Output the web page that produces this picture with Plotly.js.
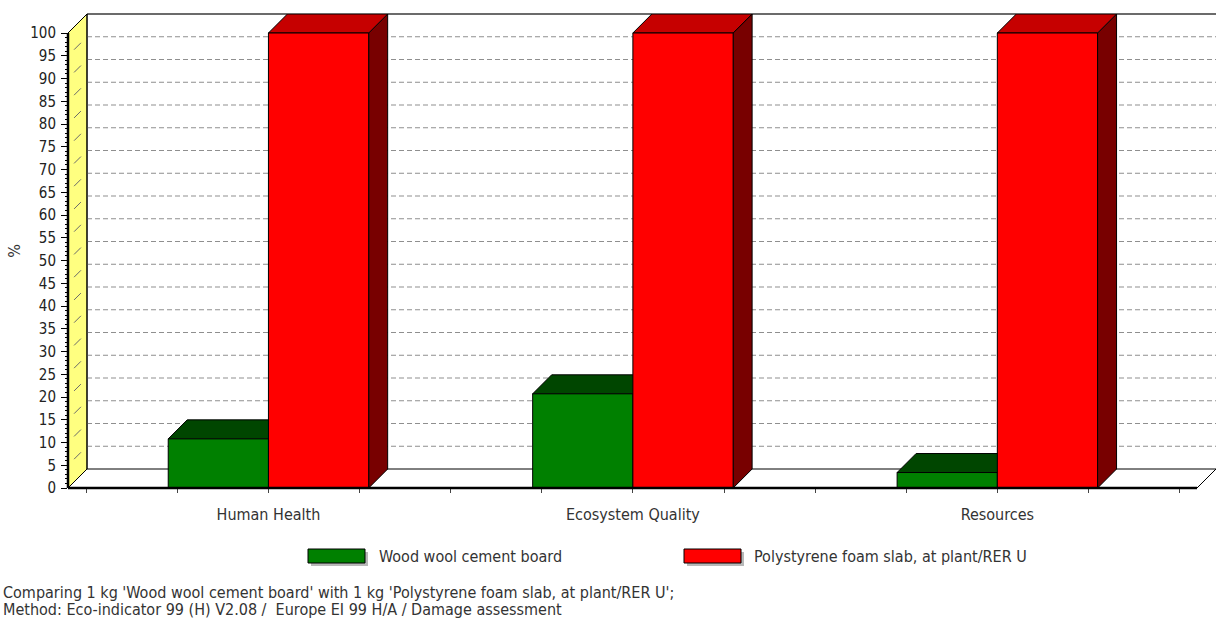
<!DOCTYPE html>
<html>
<head>
<meta charset="utf-8">
<script src="https://cdn.plot.ly/plotly-3.0.1.min.js"></script>
<style>
  html, body { margin: 0; padding: 0; background: #ffffff; }
  #chart { width: 1216px; height: 621px; }
</style>
</head>
<body>
<div id="chart"></div>
<script>
// Damage categories and the two compared products (percent of the larger one)
const categories = ['Human Health', 'Ecosystem Quality', 'Resources'];
const woodWool = [10.8, 20.7, 3.4];
const polystyrene = [100, 100, 100];
const seriesNames = ['Wood wool cement board', 'Polystyrene foam slab, at plant/RER U'];

const yTickValues = [0, 5, 10, 15, 20, 25, 30, 35, 40, 45, 50, 55, 60, 65, 70, 75, 80, 85, 90, 95, 100];
const yTickLabels = ['0', '5', '10', '15', '20', '25', '30', '35', '40', '45', '50', '55', '60', '65', '70', '75', '80', '85', '90', '95', '100'];

const noteLines = [
  "Comparing 1 kg 'Wood wool cement board' with 1 kg 'Polystyrene foam slab, at plant/RER U';",
  "Method: Eco-indicator 99 (H) V2.08 /\u00a0 Europe EI 99 H/A / Damage assessment"
];

// ---- styling ----
const FONT = '"DejaVu Sans Condensed", "DejaVu Sans", sans-serif';
const TEXT = '#333333';
const palette = [
  { front: '#008000', top: '#004600', side: '#003300' },
  { front: '#ff0000', top: '#c60000', side: '#780000' }
];

// ---- geometry of the pseudo-3D box ----
const W = 1216, H = 621;
const M = { l: 68, r: 0, t: 14, b: 133 };
const plotW = W - M.l - M.r, plotH = H - M.t - M.b;
const DEPTH = 19;                         // receding depth in pixels
const yMax = 100 * plotH / (plotH - DEPTH);
const dy = yMax - 100;                    // depth in axis units (vertical)
const xMin = -0.55, xMax = 2.6;
const dx = DEPTH * (xMax - xMin) / plotW; // depth in axis units (horizontal)
const BAR_W = 0.275;

const px2paperX = p => (p - M.l) / plotW;
const px2paperY = p => (M.t + plotH - p) / plotH;
const x2paper = x => (x - xMin) / (xMax - xMin);

const idx = categories.map((_, i) => i);
const series = [woodWool, polystyrene];
const offsets = [-BAR_W, 0];

// ---- traces: the front faces of the bars ----
const traces = series.map((vals, s) => ({
  type: 'bar',
  name: seriesNames[s],
  x: idx,
  y: vals,
  width: BAR_W,
  offset: offsets[s],
  marker: { color: palette[s].front, line: { color: '#000000', width: 1 } },
  customdata: categories,
  hovertemplate: '%{customdata}<br>' + seriesNames[s] + ': %{y:.1f} %<extra></extra>',
  showlegend: false
}));

// ---- shapes: walls, floor, grid and the depth faces ----
const shapes = [];
const line = (x0, y0, x1, y1, color, width, dash, extra) =>
  Object.assign({ type: 'line', xref: 'x', yref: 'y', x0, y0, x1, y1,
    line: { color, width, dash: dash || 'solid' }, layer: 'below' }, extra || {});

// left wall
shapes.push({
  type: 'path', xref: 'x', yref: 'y', layer: 'below',
  path: `M ${xMin},0 L ${xMin},100 L ${xMin + dx},${yMax} L ${xMin + dx},${dy} Z`,
  fillcolor: '#ffff80', line: { color: '#000000', width: 1 }
});
// grid on the back plane, and its short continuation across the wall
yTickValues.filter(v => v > 0 && v < 100).forEach(v => {
  shapes.push(line(xMin + dx * 0.32, v + dy * 0.32, xMin + dx * 0.68, v + dy * 0.68, '#6a6a6a', 1));
  shapes.push(line(xMin + dx, v + dy, xMax, v + dy, '#8f8f8f', 1, '5px,3px'));
});
// back wall edges
shapes.push(line(xMin + dx, dy, xMin + dx, yMax, '#000000', 1));
shapes.push({ type: 'line', xref: 'paper', yref: 'paper',
  x0: x2paper(xMin + dx), x1: 1, y0: 1, y1: 1, line: { color: '#3a3a3a', width: 1.5 }, layer: 'below' });
// floor
shapes.push(line(xMin + dx, dy, xMax, dy, '#000000', 1));
shapes.push(line(xMax - dx, 0, xMax, dy, '#000000', 1));

// top and side faces of each bar
series.forEach((vals, s) => {
  vals.forEach((v, i) => {
    const x0 = i + offsets[s], x1 = x0 + BAR_W;
    shapes.push({
      type: 'path', xref: 'x', yref: 'y', layer: 'below',
      path: `M ${x1},0 L ${x1},${v} L ${x1 + dx},${v + dy} L ${x1 + dx},${dy} Z`,
      fillcolor: palette[s].side, line: { color: '#000000', width: 1 }
    });
    shapes.push({
      type: 'path', xref: 'x', yref: 'y', layer: 'below',
      path: `M ${x0},${v} L ${x1},${v} L ${x1 + dx},${v + dy} L ${x0 + dx},${v + dy} Z`,
      fillcolor: palette[s].top, line: { color: '#000000', width: 1 }
    });
  });
});

// front axis line and front floor edge
shapes.push({ type: 'line', xref: 'paper', yref: 'paper', x0: 0, x1: 0, y0: 0, y1: 100 / yMax,
  line: { color: '#000000', width: 2.5 }, layer: 'above' });
shapes.push({ type: 'line', xref: 'paper', yref: 'paper', x0: 0, x1: x2paper(xMax - dx), y0: 0, y1: 0,
  line: { color: '#000000', width: 2.5 }, layer: 'above' });

// ---- legend, drawn as swatches with labels ----
const legendItems = [
  { x0: 308, x1: 365, tx: 377 },
  { x0: 684, x1: 741, tx: 752 }
];
const legY0 = 549, legY1 = 563, legMid = 556;
const annotations = [];
legendItems.forEach((it, s) => {
  shapes.push({ type: 'rect', xref: 'paper', yref: 'paper',
    x0: px2paperX(it.x0 + 3), x1: px2paperX(it.x1 + 3), y0: px2paperY(legY1 + 3), y1: px2paperY(legY0 + 3),
    fillcolor: 'rgba(0,0,0,0.28)', line: { width: 0 }, layer: 'above' });
  shapes.push({ type: 'rect', xref: 'paper', yref: 'paper',
    x0: px2paperX(it.x0), x1: px2paperX(it.x1), y0: px2paperY(legY1), y1: px2paperY(legY0),
    fillcolor: palette[s].front, line: { color: '#000000', width: 1 }, layer: 'above' });
  annotations.push({ xref: 'paper', yref: 'paper', x: px2paperX(it.tx), y: px2paperY(legMid),
    xanchor: 'left', yanchor: 'middle', showarrow: false, text: seriesNames[s],
    font: { family: FONT, size: 16, color: TEXT } });
});

// ---- footnote ----
[592, 609].forEach((py, k) => {
  annotations.push({ xref: 'paper', yref: 'paper', x: px2paperX(1), y: px2paperY(py),
    xanchor: 'left', yanchor: 'middle', showarrow: false, text: noteLines[k],
    font: { family: FONT, size: 16, color: TEXT } });
});

// ---- axes ----
const xTickVals = [], xTickText = [];
for (let t = -0.5; t <= 2.5 + 1e-9; t += 0.25) {
  xTickVals.push(t);
  const r = Math.round(t);
  xTickText.push(Math.abs(t - r) < 1e-9 && r >= 0 && r < categories.length ? categories[r] : '');
}
const yMinorVals = [];
for (let v = 1; v < 100; v++) if (v % 5 !== 0) yMinorVals.push(v);

const layout = {
  width: W, height: H,
  margin: M,
  paper_bgcolor: '#ffffff',
  plot_bgcolor: '#ffffff',
  barmode: 'overlay',
  showlegend: false,
  font: { family: FONT, color: TEXT },
  xaxis: {
    range: [xMin, xMax], fixedrange: true,
    tickmode: 'array', tickvals: xTickVals, ticktext: xTickText,
    ticks: 'outside', ticklen: 4, tickcolor: '#444444', tickwidth: 1,
    ticklabelstandoff: 8,
    tickfont: { family: FONT, size: 16, color: TEXT },
    showgrid: false, zeroline: false, showline: false
  },
  yaxis: {
    range: [0, yMax], fixedrange: true,
    tickmode: 'array', tickvals: yTickValues, ticktext: yTickLabels,
    ticks: 'outside', ticklen: 6, tickcolor: '#000000', tickwidth: 1,
    ticklabelstandoff: 2,
    tickfont: { family: FONT, size: 15, color: '#222222' },
    minor: { tickmode: 'array', tickvals: yMinorVals, ticks: 'outside', ticklen: 2, tickcolor: '#000000', showgrid: false },
    showgrid: false, zeroline: false, showline: false,
    title: { text: '%', standoff: 5, font: { family: FONT, size: 16, color: TEXT } }
  },
  shapes,
  annotations
};

Plotly.newPlot('chart', traces, layout, { displayModeBar: false, staticPlot: false });
</script>
</body>
</html>
